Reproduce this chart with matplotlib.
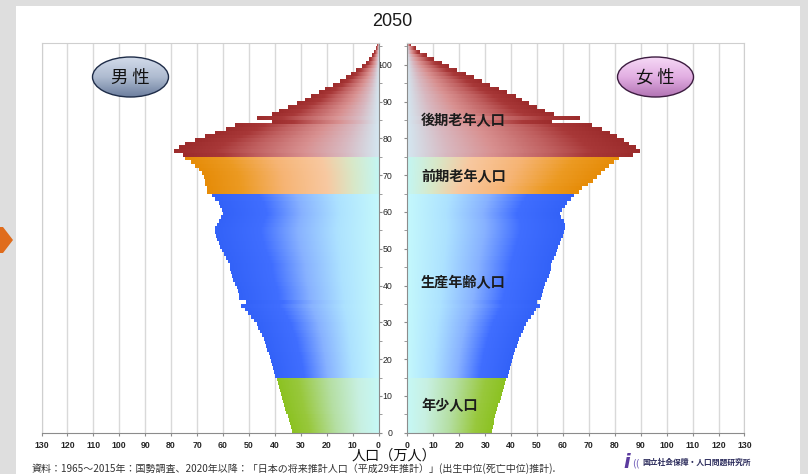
import numpy as np
import matplotlib.pyplot as plt
from matplotlib.colors import LinearSegmentedColormap
from matplotlib.patches import Ellipse, Polygon, Rectangle

plt.rcParams['font.family'] = ['Noto Sans CJK JP', 'DejaVu Sans']

W, H = 808, 474

YEAR = "2050"
AGES = np.arange(0, 106)
# population by single year of age, 10k persons
MALE = [
    33.5, 33.9, 34.3, 34.7, 35.1, 35.5, 35.9, 36.3, 36.7, 37.1,
    37.6, 38.0, 38.4, 38.8, 39.2,
    39.8, 40.3, 40.7, 41.2, 41.6, 42.0, 42.4, 42.9, 43.3, 43.8,
    44.3, 45.0, 45.6, 46.3, 47.0, 48.0, 49.0, 50.3, 51.5, 53.2,
    51.3, 53.9, 53.9, 54.3, 54.7, 55.2, 56.0, 56.6, 56.8, 57.1,
    57.4, 58.2, 58.8, 59.7, 60.3, 61.0, 61.6, 62.2, 62.5, 62.9,
    62.9, 62.2, 61.6, 60.8, 60.0, 60.3, 61.0, 61.6, 62.9, 64.2,
    66.1, 66.1, 66.9, 67.0, 67.5, 68.0, 69.4, 70.6, 72.5, 74.5,
    75.6, 78.7, 77.0, 74.5, 70.6, 67.0, 62.9, 59.0, 55.5, 41.0,
    47.0, 41.0, 38.5, 35.0, 31.5, 28.5, 26.0, 23.0, 20.5, 17.5,
    15.0, 12.5, 10.5, 8.5, 6.5, 5.0, 3.6, 2.5, 1.6, 0.9, 0.5,
]
FEMALE = [
    32.6, 32.9, 33.2, 33.5, 33.9, 34.3, 34.7, 35.1, 35.5, 35.9,
    36.3, 36.7, 37.1, 37.5, 37.9,
    38.6, 39.1, 39.6, 40.0, 40.4, 40.8, 41.2, 41.6, 42.1, 42.6,
    43.2, 43.8, 44.4, 45.0, 45.7, 46.6, 47.5, 48.8, 49.6, 51.3,
    50.0, 51.5, 52.0, 52.3, 52.6, 53.2, 53.9, 54.5, 54.8, 55.2,
    55.2, 55.8, 56.4, 57.1, 57.7, 58.1, 59.0, 59.3, 59.9, 60.3,
    60.7, 60.7, 60.3, 59.3, 59.0, 59.7, 60.7, 61.6, 62.9, 64.2,
    66.0, 67.5, 69.5, 71.5, 73.0, 74.5, 76.0, 77.7, 79.6, 81.5,
    87.0, 89.6, 88.0, 85.4, 83.4, 80.9, 78.3, 75.1, 71.2, 55.8,
    66.7, 56.4, 53.2, 50.0, 46.8, 44.3, 41.7, 38.5, 35.2, 32.0,
    28.8, 25.6, 22.4, 19.2, 15.9, 13.4, 10.1, 7.6, 5.0, 3.1, 1.5,
]
GROUP_EDGES = [15, 65, 75]
GROUP_LABELS = ["年少人口", "生産年齢人口", "前期老年人口", "後期老年人口"]
X_TICKS = np.arange(0, 131, 10)
AGE_TICKS = np.arange(0, 101, 10)
AGE_MINOR = np.arange(5, 106, 10)

# colour ramps per age group, from the axis (0) out to the bar tip (1)
RAMPS = [
    [(0, '#c6f8f6'), (0.2, '#c8f0e2'), (0.5, '#b4dea0'), (0.8, '#98c83c'), (1, '#8cc222')],
    [(0, '#c4f8fc'), (0.25, '#ade2ff'), (0.5, '#86b0ff'), (0.72, '#406eff'), (1, '#3362f8')],
    [(0, '#c4f6f2'), (0.14, '#d8e8c8'), (0.3, '#f8c8a0'), (0.55, '#f6b474'), (0.8, '#ec9a22'), (1, '#e68c08')],
    [(0, '#d4e6f0'), (0.17, '#d8b8c0'), (0.37, '#d89090'), (0.62, '#c06060'), (0.8, '#a83838'), (1, '#9c2c2c')],
]


def px_box(x0, y0, x1, y1):
    return [x0 / W, 1 - y1 / H, (x1 - x0) / W, (y1 - y0) / H]


def ramp_image(stops):
    cmap = LinearSegmentedColormap.from_list("", stops)
    return cmap(np.linspace(0, 1, 128))[None, :, :3]


def pyramid_side(ax, values):
    imgs = [ramp_image(s) for s in RAMPS]
    groups = np.searchsorted(GROUP_EDGES, AGES, side="right")
    bars = ax.barh(AGES, values, height=1.0, align="edge", color="none", lw=0)
    for bar, g in zip(bars, groups):
        x0, y0 = bar.get_x(), bar.get_y()
        ax.imshow(imgs[g], extent=(x0, x0 + bar.get_width(), y0, y0 + bar.get_height()),
                  aspect="auto", interpolation="bilinear", zorder=2)
    ax.set_ylim(0, 106)
    ax.set_xticks(X_TICKS)
    ax.set_xticklabels([str(v) for v in X_TICKS], fontfamily='Liberation Sans',
                       fontweight='bold', fontsize=6.3, color='#262626')
    ax.tick_params(axis='x', direction='out', length=2.2, color='#8c8c8c', pad=3.5)
    ax.grid(axis='x', color='#d9d9d9', lw=1.0, zorder=0)
    ax.set_axisbelow(True)
    for side in ('top', 'left', 'right'):
        ax.spines[side].set_color('#cfcfcf')
    ax.spines['bottom'].set_color('#8c8c8c')


fig = plt.figure(figsize=(W / 100, H / 100), dpi=100)
fig.patch.set_facecolor('#dedede')

bg = fig.add_axes([0, 0, 1, 1], zorder=-1)
bg.set_xlim(0, W); bg.set_ylim(H, 0); bg.axis('off')
bg.add_patch(Rectangle((16, 6), 784, H, facecolor='white', lw=0))
bg.add_patch(Polygon([(0, 227), (3, 227), (13, 240), (3, 253), (0, 253)],
                     facecolor='#e06c1c', lw=0))

# male (left)
ax_l = fig.add_axes(px_box(41.5, 42.7, 378.5, 432.7))
pyramid_side(ax_l, MALE)
ax_l.set_xlim(130, 0)
ax_l.yaxis.tick_right()
ax_l.set_yticks(AGE_TICKS)
ax_l.set_yticks(AGE_MINOR, minor=True)
ax_l.set_yticklabels([str(a) for a in AGE_TICKS], ha='right', fontfamily='Liberation Sans',
                     fontsize=6.3, color='#262626')
ax_l.tick_params(axis='y', which='both', direction='out', length=2.2, color='#8c8c8c', pad=7.6)
ax_l.spines['right'].set_color('#8c8c8c')

# female (right)
ax_r = fig.add_axes(px_box(407.5, 42.7, 744.5, 432.7))
pyramid_side(ax_r, FEMALE)
ax_r.set_xlim(0, 130)
ax_r.set_yticks(AGE_TICKS)
ax_r.set_yticks(AGE_MINOR, minor=True)
ax_r.tick_params(axis='y', which='both', direction='out', length=2.2, color='#8c8c8c',
                 labelleft=False)
ax_r.spines['left'].set_color('#8c8c8c')

# annotations in pixel coordinates
ov = fig.add_axes([0, 0, 1, 1], zorder=5)
ov.set_xlim(0, W); ov.set_ylim(H, 0); ov.axis('off')
ov.patch.set_alpha(0)

ov.text(392.5, 21.5, YEAR, ha='center', va='center', fontsize=13,
        fontfamily='Liberation Sans', color='#1a1a1a')


def badge(cx, cy, label, colors, edge):
    e = Ellipse((cx, cy), 76, 40, facecolor='none', edgecolor=edge, lw=1.0, zorder=3)
    ov.add_patch(e)
    cmap = LinearSegmentedColormap.from_list("", colors)
    im = ov.imshow(np.linspace(0, 1, 64)[:, None], cmap=cmap,
                   extent=(cx - 38, cx + 38, cy + 20, cy - 20), aspect='auto', zorder=2)
    im.set_clip_path(e)
    ov.text(cx, cy + 0.5, label, ha='center', va='center', fontsize=12.5, color='#111111', zorder=4)


badge(130.5, 77, "男 性", ['#d2dbea', '#aebbd0', '#6d7f9f'], '#1e2c48')
badge(655.5, 77, "女 性", ['#f6d8f6', '#e2aee2', '#b274b4'], '#3c1c40')

label_y = [406.5, 283, 177.5, 121.5]
for text, y in zip(GROUP_LABELS, label_y):
    ov.text(421, y, text, ha='left', va='center', fontsize=10.2, fontweight='bold',
            color='#1c1c1c', zorder=4)

ov.text(394, 455.5, "人口（万人）", ha='center', va='center', fontsize=10.2, color='#111111')
ov.text(32, 468.5, "資料：1965～2015年：国勢調査、2020年以降：「日本の将来推計人口（平成29年推計）」"
        "(出生中位(死亡中位)推計).", ha='left', va='center', fontsize=7.2, color='#333333')

ov.text(627, 462, "i", ha='center', va='center', fontsize=14, fontstyle='italic',
        fontweight='bold', color='#5b3a9e', fontfamily='DejaVu Sans')
ov.text(636, 463, "((", ha='center', va='center', fontsize=7, color='#7664bc',
        fontfamily='DejaVu Sans')
ov.text(642, 462, "国立社会保障・人口問題研究所", ha='left', va='center', fontsize=5.6,
        fontweight='bold', color='#2c2c5c')

fig.savefig("out.png", dpi=100)
